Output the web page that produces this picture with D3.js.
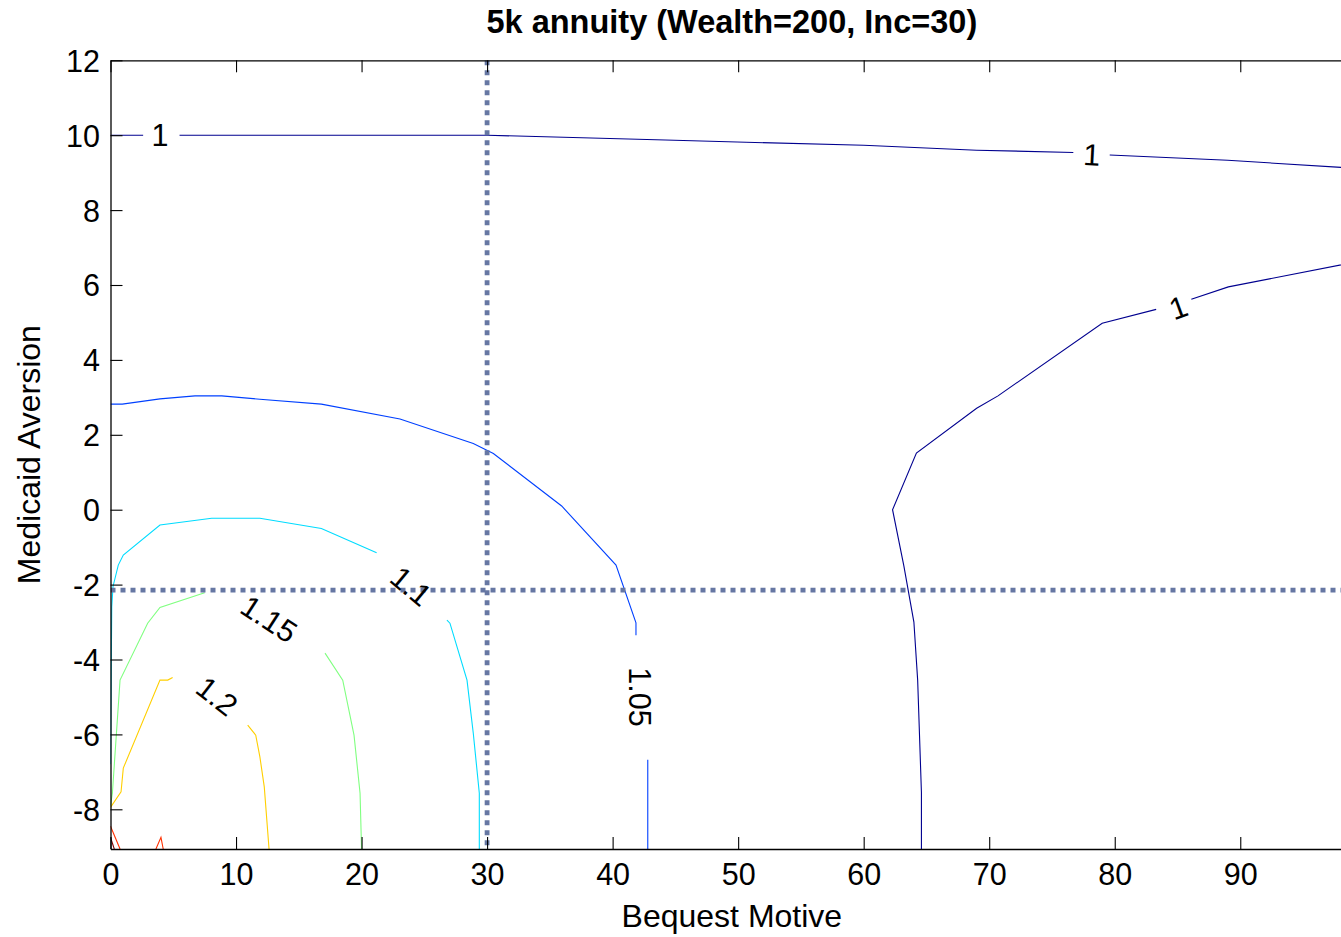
<!DOCTYPE html>
<html>
<head>
<meta charset="utf-8">
<script src="https://cdn.jsdelivr.net/npm/d3@7"></script>
<style>
  body { margin: 0; background: #fff; }
  svg { display: block; overflow: hidden; font-family: "Liberation Sans", Arial, sans-serif; }
</style>
</head>
<body>
<div id="chart"></div>
<script>
// axis ticks
const xTicks = [0, 10, 20, 30, 40, 50, 60, 70, 80, 90];
const yTicks = [-8, -6, -4, -2, 0, 2, 4, 6, 8, 10, 12];

// reference lines (dotted)
const refBequest = 30;
const refAversion = -2.15;

// contour levels, each one a list of polyline pieces [bequest, aversion]
const levels = [1.0, 1.05, 1.1, 1.15, 1.2, 1.25, 1.3];

const lvl100 = [
  [[0, 10], [2.6, 10]],
  [[5.5, 10], [10, 10], [20, 10], [30, 10], [44.2, 9.87], [60, 9.73], [69, 9.6], [76.7, 9.54]],
  [[79.6, 9.47], [89, 9.33], [99, 9.12]],
  [[64.6, -9.06], [64.6, -7.55], [64.3, -4.55], [64.0, -3.0], [63.2, -1.5], [62.3, 0.0],
   [64.2, 1.51], [69.0, 2.71], [70.7, 3.04], [79.0, 4.98], [83.3, 5.35]],
  [[86.1, 5.62], [89.05, 5.95], [99, 6.6]]
];
const lvl105 = [
  [[0, 2.82], [0.94, 2.82], [3.94, 2.96], [6.73, 3.04], [8.86, 3.04], [11.9, 2.95], [16.8, 2.82],
   [23.06, 2.42], [28.9, 1.77], [30.5, 1.5], [35.94, 0.1], [40.27, -1.48], [41.86, -3.02], [41.86, -3.35]],
  [[42.8, -6.68], [42.8, -7.55], [42.8, -9.06]]
];
const lvl110 = [
  [[0, -6.8], [0.05, -4.6], [0.1, -2.6], [0.2, -2.05], [0.62, -1.48], [1.02, -1.21], [3.94, -0.41],
   [8.06, -0.23], [11.9, -0.23], [16.8, -0.5], [21.2, -1.15]],
  [[26.8, -2.95], [27.04, -3.03], [28.4, -4.55], [28.9, -5.97], [29.38, -7.57], [29.38, -9.06]]
];
const lvl115 = [
  [[0, -7.9], [0.15, -7.57], [0.76, -4.55], [2.96, -3.03], [3.94, -2.61], [7.5, -2.22]],
  [[17.09, -3.83], [18.5, -4.55], [19.4, -6.02], [19.88, -7.57], [20.0, -9.06]]
];
const lvl120 = [
  [[0, -7.95], [0.84, -7.53], [1.02, -6.9], [3.94, -4.55], [4.56, -4.55], [4.95, -4.48]],
  [[10.93, -5.75], [11.57, -6.02], [11.9, -6.6], [12.25, -7.4], [12.63, -9.06]]
];
const lvl125 = [
  [[0, -8.45], [0.76, -9.06]],
  [[3.62, -9.06], [4.02, -8.75], [4.2, -9.06]]
];
const lvl130 = [
  [[0, -8.75], [0.3, -9.06]]
];

// inline contour labels
const labelText = ["1", "1", "1", "1.05", "1.1", "1.15", "1.2"];
const labelX = [3.95, 78.17, 85.06, 42.18, 23.94, 12.63, 8.48];
const labelY = [10.0, 9.48, 5.4, -5.0, -2.04, -2.92, -4.98];
const labelAngle = [0, 3, -20, 90, 40, 33, 38];

const W = 1341, H = 937;
const mLeft = 110.5, mTop = 60.3, mBottom = 849;

const x = d3.scaleLinear().domain([0, 99]).range([mLeft, mLeft + 99 * 12.553]);
const y = d3.scaleLinear().domain([-9.06, 12]).range([mBottom, mTop]);

const color = d3.scaleOrdinal()
  .domain(levels)
  .range(["#00008f", "#0040ff", "#00dcff", "#80ff80", "#ffcf00", "#ff3000", "#800000"]);

const svg = d3.select("#chart").append("svg")
  .attr("width", W)
  .attr("height", H);

svg.append("defs").append("clipPath").attr("id", "plot")
  .append("rect")
  .attr("x", x.range()[0]).attr("y", mTop)
  .attr("width", x.range()[1] - x.range()[0]).attr("height", mBottom - mTop);

const plot = svg.append("g").attr("clip-path", "url(#plot)");

const line = d3.line().x(d => x(d[0])).y(d => y(d[1]));

const allLevels = [lvl100, lvl105, lvl110, lvl115, lvl120, lvl125, lvl130];
allLevels.forEach((pieces, i) => {
  plot.selectAll(null)
    .data(pieces)
    .enter().append("path")
    .attr("d", line)
    .attr("fill", "none")
    .attr("stroke", color(levels[i]))
    .attr("stroke-width", 1.1);
});

// dotted reference lines
plot.append("line")
  .attr("x1", x(0)).attr("x2", x(99))
  .attr("y1", y(refAversion)).attr("y2", y(refAversion))
  .attr("stroke", "#6677a3").attr("stroke-width", 4.8)
  .attr("stroke-dasharray", "5,5");
plot.append("line")
  .attr("x1", x(refBequest)).attr("x2", x(refBequest))
  .attr("y1", y(12)).attr("y2", y(-9.06))
  .attr("stroke", "#6677a3").attr("stroke-width", 4.8)
  .attr("stroke-dasharray", "5,5");

// contour labels
plot.selectAll(".clabel")
  .data(labelText)
  .enter().append("text")
  .attr("class", "clabel")
  .attr("transform", (d, i) => "translate(" + x(labelX[i]) + "," + y(labelY[i]) + ") rotate(" + labelAngle[i] + ")")
  .attr("text-anchor", "middle")
  .attr("dy", "0.35em")
  .style("font-size", "30.5px")
  .attr("fill", "#000")
  .text(d => d);

// axes (ticks point inward, MATLAB style); plain hyphen for negatives
const fmt = d => String(d);
const axBottom = svg.append("g")
  .attr("transform", "translate(0," + mBottom + ")")
  .call(d3.axisBottom(x).tickValues(xTicks).tickFormat(fmt).tickSizeInner(-12).tickSizeOuter(0).tickPadding(14.3));
const axTop = svg.append("g")
  .attr("transform", "translate(0," + mTop + ")")
  .call(d3.axisTop(x).tickValues(xTicks).tickSizeInner(-12).tickSizeOuter(0).tickFormat(""));
const axLeft = svg.append("g")
  .attr("transform", "translate(" + mLeft + ",0)")
  .call(d3.axisLeft(y).tickValues(yTicks).tickFormat(fmt).tickSizeInner(-12).tickSizeOuter(0).tickPadding(10.5));
const axRight = svg.append("g")
  .attr("transform", "translate(" + x(99) + ",0)")
  .call(d3.axisRight(y).tickValues(yTicks).tickSizeInner(-12).tickSizeOuter(0).tickFormat(""));

[axBottom, axTop, axLeft, axRight].forEach(a => {
  a.select(".domain").attr("stroke", "#000").attr("stroke-width", 1.3);
  a.selectAll(".tick line").attr("stroke", "#000").attr("stroke-width", 1.1);
  a.selectAll(".tick text")
    .attr("fill", "#000")
    .style("font-size", "30.5px")
    .style("font-family", "'Liberation Sans', Arial, sans-serif");
});
axLeft.selectAll(".tick text").attr("dy", "0.36em");

// title and axis labels
const midX = (x.range()[0] + x.range()[1]) / 2;
svg.append("text")
  .attr("x", midX).attr("y", 33)
  .attr("text-anchor", "middle")
  .style("font-size", "32.5px")
  .style("font-weight", "bold")
  .text("5k annuity (Wealth=200, Inc=30)");

svg.append("text")
  .attr("x", midX).attr("y", 927)
  .attr("text-anchor", "middle")
  .style("font-size", "32px")
  .text("Bequest Motive");

svg.append("text")
  .attr("transform", "translate(40," + ((mTop + mBottom) / 2) + ") rotate(-90)")
  .attr("text-anchor", "middle")
  .style("font-size", "32px")
  .text("Medicaid Aversion");
</script>
</body>
</html>
